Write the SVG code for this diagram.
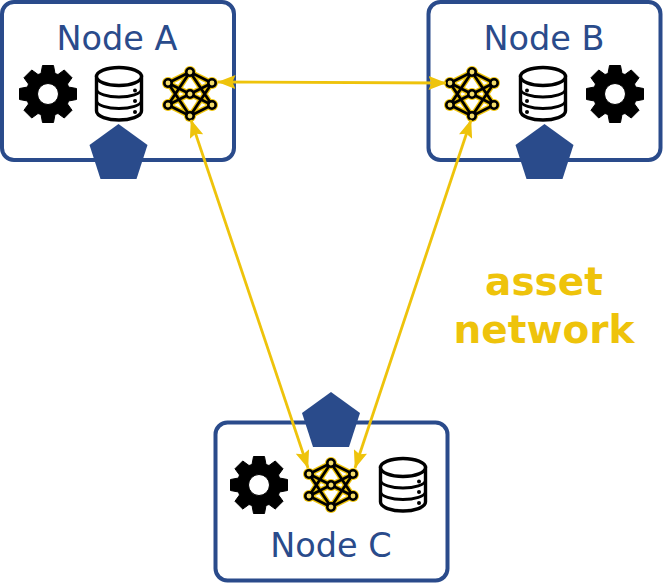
<svg xmlns="http://www.w3.org/2000/svg" width="663" height="583" viewBox="0 0 663 583">
  <style>
    .box { fill: #ffffff; stroke: #2a4b8b; stroke-width: 4; }
    .penta { fill: #2a4b8b; }
    .title { font-family: "DejaVu Sans", sans-serif; font-size: 33.5px; fill: #2a4b8b; text-anchor: middle; }
    .caption { font-family: "DejaVu Sans", sans-serif; font-weight: bold; font-size: 39px; fill: #eec30b; text-anchor: middle; }
    .link { fill: none; stroke: #eec30b; stroke-width: 2.8; marker-start: url(#head); marker-end: url(#head); }
    .halo { fill: none; stroke: #eec30b; stroke-width: 5.4; stroke-linecap: round; }
    .haloDot { fill: #eec30b; }
    .net { fill: none; stroke: #000000; stroke-width: 2.8; }
    .netDot { fill: #f4dc6a; stroke: #000000; stroke-width: 2.6; }
    .db { fill: #ffffff; stroke: #000000; stroke-width: 3.4; }
    .dbLine { fill: none; stroke: #000000; stroke-width: 2.8; }
  </style>
  <defs>
    <marker id="head" viewBox="0 0 18 14" refX="17.500" refY="7" markerWidth="18" markerHeight="14" markerUnits="userSpaceOnUse" orient="auto-start-reverse">
      <path d="M0 0 L18 7 L0 14 L3 7 Z" fill="#eec30b"/>
    </marker>
    <!-- Cog wheel, centred on the origin -->
    <symbol id="gear" overflow="visible">
      <path fill="#000000" stroke="#000000" stroke-width="1" stroke-linejoin="round" fill-rule="evenodd" d="M-5.500 -28.500 L5.500 -28.500 L7 -20.500 L10 -19.500 L16.260 -24.040 L24.040 -16.260 L19.500 -10 L20.500 -7 L28.500 -5.500 L28.500 5.500 L20.500 7 L19.500 10 L24.040 16.260 L16.260 24.040 L10 19.500 L7 20.500 L5.500 28.500 L-5.500 28.500 L-7 20.500 L-10 19.500 L-16.260 24.040 L-24.040 16.260 L-19.500 10 L-20.500 7 L-28.500 5.500 L-28.500 -5.500 L-20.500 -7 L-19.500 -10 L-24.040 -16.260 L-16.260 -24.040 L-10 -19.500 L-7 -20.500 Z M10.500 0 A10.500 10.500 0 1 0 -10.500 0 A10.500 10.500 0 1 0 10.500 0 Z"/>
    </symbol>
    <!-- Stacked storage drum with status dots on the right -->
    <symbol id="drum" overflow="visible">
      <path class="db" d="M-22.500 -17.500 L-22.500 17 C-22.500 22.500 -11 26 0 26 C11 26 22.500 22.500 22.500 17 L22.500 -17.500 Z"/>
      <ellipse class="db" cx="0" cy="-17.500" rx="22.500" ry="9"/>
      <path class="dbLine" d="M-22.500 -5 C-22.500 0 -11 3 0 3 C11 3 22.500 0 22.500 -5"/>
      <path class="dbLine" d="M-22.500 6.500 C-22.500 11.500 -11 14.500 0 14.500 C11 14.500 22.500 11.500 22.500 6.500"/>
      <circle cx="16" cy="-3.500" r="2" fill="#000000"/>
      <circle cx="16" cy="7" r="2" fill="#000000"/>
      <circle cx="16" cy="18" r="2" fill="#000000"/>
    </symbol>
    <!-- Neural mesh icon with a yellow halo under black strokes -->
    <symbol id="mesh" overflow="visible">
      <path class="halo" d="M-22 -11 L0 -22 L22 -11 M-22 11 L0 22 L22 11 M0 -22 L-22 11 M0 -22 L22 11 M0 22 L-22 -11 M0 22 L22 -11 M-22 -11 L22 11 M-22 11 L22 -11"/>
      <g class="haloDot">
        <circle cx="0" cy="-22" r="6"/><circle cx="0" cy="22" r="6"/><circle cx="-22" cy="-11" r="6"/><circle cx="-22" cy="11" r="6"/><circle cx="22" cy="-11" r="6"/><circle cx="22" cy="11" r="6"/><circle cx="0" cy="0" r="6"/>
      </g>
      <path class="net" d="M-22 -11 L0 -22 L22 -11 M-22 11 L0 22 L22 11 M0 -22 L-22 11 M0 -22 L22 11 M0 22 L-22 -11 M0 22 L22 -11 M-22 -11 L22 11 M-22 11 L22 -11"/>
      <g class="netDot">
        <circle cx="0" cy="-22" r="3.700"/><circle cx="0" cy="22" r="3.700"/><circle cx="-22" cy="-11" r="3.700"/><circle cx="-22" cy="11" r="3.700"/><circle cx="22" cy="-11" r="3.700"/><circle cx="22" cy="11" r="3.700"/><circle cx="0" cy="0" r="3.700"/>
      </g>
    </symbol>
  </defs>

  <g id="node-a">
    <rect class="box" x="2" y="2" width="232" height="158" rx="12"/>
    <text class="title" x="117" y="50">Node A</text>
    <use href="#gear" x="48" y="94"/>
    <use href="#drum" x="119" y="94"/>
    <use href="#mesh" x="190" y="94"/>
    <polygon class="penta" points="118.500,124 147.500,145 136.500,179 100.500,179 89.500,145"/>
  </g>

  <g id="node-b">
    <rect class="box" x="428.500" y="2" width="232" height="158" rx="12"/>
    <text class="title" x="544" y="50">Node B</text>
    <use href="#mesh" x="472" y="94"/>
    <use href="#drum" transform="translate(543 94) scale(-1 1)"/>
    <use href="#gear" x="615" y="94"/>
    <polygon class="penta" points="544.500,124 573.500,145 562.500,179 526.500,179 515.500,145"/>
  </g>

  <g id="node-c">
    <rect class="box" x="215.500" y="422.500" width="232" height="158" rx="12"/>
    <text class="title" x="331" y="557">Node C</text>
    <use href="#gear" x="259" y="485"/>
    <use href="#mesh" x="331" y="485"/>
    <use href="#drum" x="403" y="485"/>
    <polygon class="penta" points="331,392 360,413 349,447 313,447 302,413"/>
  </g>

  <g id="connectors">
    <line class="link" x1="218" y1="82" x2="446" y2="83"/>
    <line class="link" x1="191" y1="120" x2="308" y2="468"/>
    <line class="link" x1="471" y1="120" x2="355" y2="468"/>
  </g>

  <g id="caption">
    <text class="caption" x="544" y="295">asset</text>
    <text class="caption" x="544" y="343">network</text>
  </g>
</svg>
